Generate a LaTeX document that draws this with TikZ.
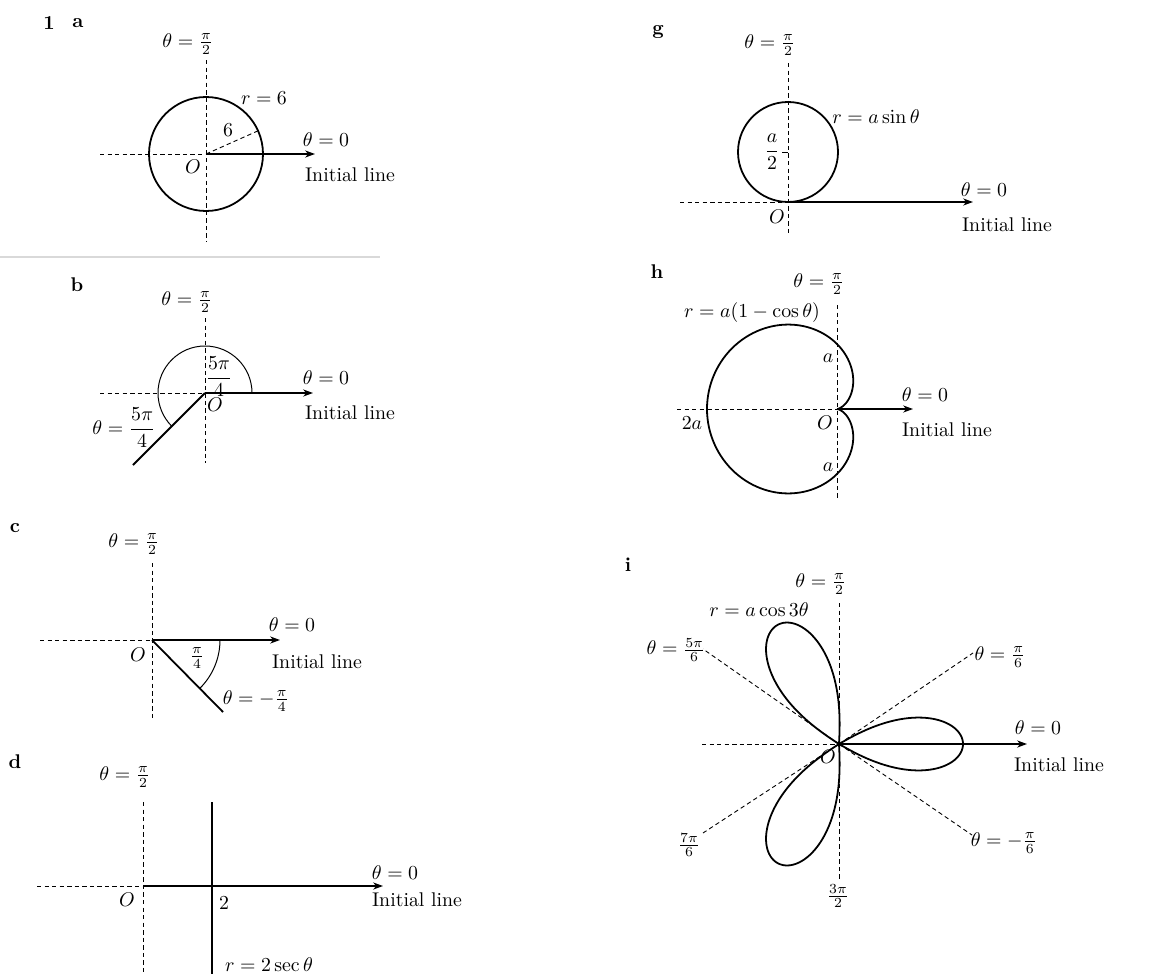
\documentclass[tikz,border=0pt]{standalone}
\usepackage{amsmath}
\usetikzlibrary{arrows.meta}

\tikzstyle{axis dash}=[dash pattern=on 2.2pt off 1.6pt, line width=0.45pt]
\tikzstyle{curve}=[line width=0.9pt]
\tikzstyle{angle arc}=[line width=0.5pt]
\tikzstyle{initial}=[-{Stealth[length=5pt, width=3.6pt]}, line width=0.6pt]
\tikzstyle{lbl}=[inner sep=1pt]
\tikzstyle{part}=[inner sep=1pt, font=\bfseries]

\begin{document}
\begin{tikzpicture}[x=0.504pt, y=0.504pt]
	\useasboundingbox (0,0) rectangle (1158,-974);

	% 1 a: circle r = 6
	\coordinate (Oa) at (206,-154);
	\coordinate (a_up) at (206,-60);
	\coordinate (a_dn) at (206,-242);
	\coordinate (a_lf) at (100,-154);
	\coordinate (a_rt) at (315,-154);
	\coordinate (a_rad) at (258.1,-130.8);
	\draw[axis dash] (a_up) -- (a_dn);
	\draw[axis dash] (a_lf) -- (Oa);
	\draw[axis dash] (Oa) -- (a_rad);
	\draw[initial] (Oa) -- (a_rt);
	\draw[curve] (Oa) circle[radius=57];
	\node[part] (q1) at (49,-23) {1};
	\node[part] (pa) at (78,-23) {a};
	\node[lbl, anchor=south] (a_pi2) at (206,-57) {\llap{$\theta={}$}$\frac{\pi}{2}$};
	\node[lbl] (a_r6) at (264,-98) {$r=6$};
	\node[lbl] (a_six) at (228,-130) {$6$};
	\node[lbl] (a_t0) at (326,-140) {$\theta=0$};
	\node[lbl] (a_init) at (350,-175) {Initial line};
	\node[lbl] (a_O) at (193,-167) {$O$};

	% page edge
	\coordinate (rule_l) at (0,-257);
	\coordinate (rule_r) at (380,-257);
	\draw[black!15, line width=0.6pt] (rule_l) -- (rule_r);

	% b: half-line theta = 5pi/4
	\coordinate (Ob) at (205,-393);
	\coordinate (b_up) at (205,-318);
	\coordinate (b_dn) at (205,-463);
	\coordinate (b_lf) at (100,-393);
	\coordinate (b_rt) at (313,-393);
	\coordinate (b_ray) at (133,-465);
	\coordinate (b_arc) at (252,-393);
	\draw[axis dash] (b_up) -- (b_dn);
	\draw[axis dash] (b_lf) -- (Ob);
	\draw[initial] (Ob) -- (b_rt);
	\draw[curve] (Ob) -- (b_ray);
	\draw[angle arc] (b_arc) arc[start angle=0, end angle=225, radius=47];
	\node[part] (pb) at (77,-285) {b};
	\node[lbl, anchor=south] (b_pi2) at (205,-315) {\llap{$\theta={}$}$\frac{\pi}{2}$};
	\node[lbl] (b_in) at (219,-377) {$\dfrac{5\pi}{4}$};
	\node[lbl] (b_ang) at (124,-428) {$\theta=\dfrac{5\pi}{4}$};
	\node[lbl] (b_t0) at (326,-378) {$\theta=0$};
	\node[lbl] (b_init) at (350,-413) {Initial line};
	\node[lbl] (b_O) at (215,-405) {$O$};

	% c: half-line theta = -pi/4
	\coordinate (Oc) at (152,-640);
	\coordinate (c_up) at (152,-563);
	\coordinate (c_dn) at (152,-718);
	\coordinate (c_lf) at (40,-640);
	\coordinate (c_rt) at (280,-640);
	\coordinate (c_ray) at (223,-712);
	\coordinate (c_arc) at (220,-640);
	\draw[axis dash] (c_up) -- (c_dn);
	\draw[axis dash] (c_lf) -- (Oc);
	\draw[initial] (Oc) -- (c_rt);
	\draw[curve] (Oc) -- (c_ray);
	\draw[angle arc] (c_arc) arc[start angle=0, end angle=-45, radius=68];
	\node[part] (pc) at (15,-528) {c};
	\node[lbl, anchor=south] (c_pi2) at (152,-557) {\llap{$\theta={}$}$\frac{\pi}{2}$};
	\node[lbl] (c_in) at (197,-658) {$\frac{\pi}{4}$};
	\node[lbl] (c_ang) at (256,-701) {$\theta=-\frac{\pi}{4}$};
	\node[lbl] (c_t0) at (292,-625) {$\theta=0$};
	\node[lbl] (c_init) at (317,-662) {Initial line};
	\node[lbl] (c_O) at (138,-655) {$O$};

	% d: line r = 2 sec theta
	\coordinate (Od) at (143,-886);
	\coordinate (d_up) at (143,-802);
	\coordinate (d_dn) at (143,-974);
	\coordinate (d_lf) at (37,-886);
	\coordinate (d_rt) at (383,-886);
	\coordinate (d_top) at (212,-802);
	\coordinate (d_bot) at (212,-974);
	\draw[axis dash] (d_up) -- (d_dn);
	\draw[axis dash] (d_lf) -- (Od);
	\draw[initial] (Od) -- (d_rt);
	\draw[curve] (d_top) -- (d_bot);
	\node[part] (pd) at (15,-762) {d};
	\node[lbl, anchor=south] (d_pi2) at (143,-790) {\llap{$\theta={}$}$\frac{\pi}{2}$};
	\node[lbl] (d_two) at (224,-903) {$2$};
	\node[lbl] (d_sec) at (269,-965) {$r=2\sec\theta$};
	\node[lbl] (d_t0) at (395,-873) {$\theta=0$};
	\node[lbl] (d_init) at (417,-900) {Initial line};
	\node[lbl] (d_O) at (127,-900) {$O$};

	% g: circle r = a sin theta
	\coordinate (Og) at (788,-202);
	\coordinate (g_up) at (788,-63);
	\coordinate (g_dn) at (788,-233);
	\coordinate (g_lf) at (680,-202);
	\coordinate (g_rt) at (973,-202);
	\coordinate (g_ctr) at (788,-152);
	\draw[axis dash] (g_up) -- (g_dn);
	\draw[axis dash] (g_lf) -- (Og);
	\draw[initial] (Og) -- (g_rt);
	\draw[curve] (g_ctr) circle[radius=50];
	\node[part] (pg) at (658,-32) {g};
	\node[lbl, anchor=south] (g_pi2) at (788,-58) {\llap{$\theta={}$}$\frac{\pi}{2}$};
	\node[lbl] (g_half) at (772,-152) {$\dfrac{a}{2}$};
	\draw[angle arc] (g_half.east) -- (g_ctr);
	\node[lbl] (g_eq) at (876,-117) {$r=a\sin\theta$};
	\node[lbl] (g_t0) at (984,-190) {$\theta=0$};
	\node[lbl] (g_init) at (1007,-225) {Initial line};
	\node[lbl] (g_O) at (777,-217) {$O$};

	% h: cardioid r = a(1 - cos theta)
	\coordinate (Oh) at (837,-409);
	\coordinate (h_up) at (837,-305);
	\coordinate (h_dn) at (837,-498);
	\coordinate (h_lf) at (677,-409);
	\coordinate (h_rt) at (913,-409);
	\draw[axis dash] (h_up) -- (h_dn);
	\draw[axis dash] (h_lf) -- (Oh);
	\draw[initial] (Oh) -- (h_rt);
	\draw[curve, shift={(Oh)}] plot[domain=0:360, samples=181] (\x:{65*(1-cos(\x))});
	\node[part] (ph) at (657,-272) {h};
	\node[lbl, anchor=south] (h_pi2) at (837,-297) {\llap{$\theta={}$}$\frac{\pi}{2}$};
	\node[lbl] (h_eq) at (752,-313) {$r=a(1-\cos\theta)$};
	\node[lbl] (h_a1) at (828,-358) {$a$};
	\node[lbl] (h_a2) at (828,-467) {$a$};
	\node[lbl] (h_2a) at (692,-423) {$2a$};
	\node[lbl] (h_t0) at (925,-395) {$\theta=0$};
	\node[lbl] (h_init) at (947,-430) {Initial line};
	\node[lbl] (h_O) at (825,-423) {$O$};

	% i: three-leaved rose r = a cos 3 theta
	\coordinate (Oi) at (839,-744);
	\coordinate (i_up) at (839,-603);
	\coordinate (i_dn) at (839,-880);
	\coordinate (i_lf) at (702,-744);
	\coordinate (i_rt) at (1027,-744);
	\coordinate (i_nw) at (703,-649);
	\coordinate (i_ne) at (973,-653);
	\coordinate (i_sw) at (703,-833);
	\coordinate (i_se) at (972,-835);
	\draw[axis dash] (i_up) -- (i_dn);
	\draw[axis dash] (i_lf) -- (Oi);
	\foreach \e in {i_nw, i_ne, i_sw, i_se}{ \draw[axis dash] (Oi) -- (\e); }
	\draw[initial] (Oi) -- (i_rt);
	% one loop for each leaf: centre angle / length
	\foreach \c/\len in {0/124, 117/134, 243/134}{
		\draw[curve, shift={(Oi)}] (0,0) -- plot[domain=-90:90, samples=121]
			({\c+30*sin(\x)}:{\len*(max(cos(90*sin(\x)),0.0001))^0.7}) -- cycle;
	}
	\node[part] (pi) at (628,-565) {i};
	\node[lbl, anchor=south] (i_pi2) at (839,-597) {\llap{$\theta={}$}$\frac{\pi}{2}$};
	\node[lbl, anchor=north] (i_3pi2) at (838,-882) {$\frac{3\pi}{2}$};
	\node[lbl] (i_5pi6) at (676,-650) {$\theta=\frac{5\pi}{6}$};
	\node[lbl] (i_pi6) at (1000,-657) {$\theta=\frac{\pi}{6}$};
	\node[lbl] (i_mpi6) at (1004,-843) {$\theta=-\frac{\pi}{6}$};
	\node[lbl] (i_7pi6) at (689,-845) {$\frac{7\pi}{6}$};
	\node[lbl] (i_eq) at (759,-610) {$r=a\cos3\theta$};
	\node[lbl] (i_t0) at (1038,-728) {$\theta=0$};
	\node[lbl] (i_init) at (1059,-765) {Initial line};
	\node[lbl] (i_O) at (828,-757) {$O$};
\end{tikzpicture}
\end{document}
